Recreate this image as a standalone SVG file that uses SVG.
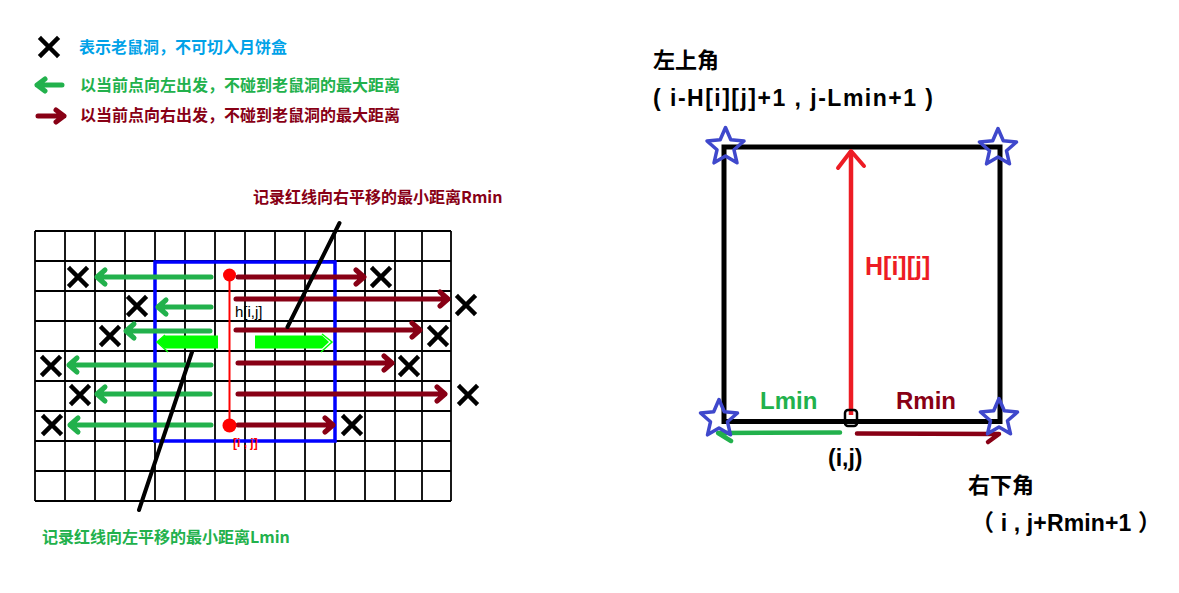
<svg xmlns="http://www.w3.org/2000/svg" width="1179" height="593" viewBox="0 0 1179 593">
<style>
.t{font-family:"Liberation Sans","Noto Sans CJK SC",sans-serif;font-weight:bold}
.cj{font-family:"Noto Sans CJK SC","Liberation Sans",sans-serif;font-weight:bold;font-size:16px}
.grid line{stroke:#000;stroke-width:1.8}
.xm{stroke:#000;stroke-width:4.5;fill:none;stroke-linecap:square}
.ga{stroke:#22b14c;stroke-width:5;fill:none;stroke-linecap:round;stroke-linejoin:round}
.ra{stroke:#880015;stroke-width:5;fill:none;stroke-linecap:round;stroke-linejoin:round}
.star{fill:none;stroke:#3f48cc;stroke-width:3.5;stroke-linejoin:round}
</style>
<defs>
<path id="x" class="xm" d="M-8,-8 L8,8 M8,-8 L-8,8"/>
<polygon id="st" class="star" points="0,-19.5 5.3,-7.2 18.5,-6 8.5,2.8 11.5,15.8 0,9 -11.5,15.8 -8.5,2.8 -18.5,-6 -5.3,-7.2"/>
</defs>
<rect width="1179" height="593" fill="#fff"/>

<g id="legend">
<use href="#x" x="49" y="47"/>
<text class="cj" x="79" y="53" fill="#00a2e8">表示老鼠洞，不可切入月饼盒</text>
<path class="ga" d="M62,85 L37,85 M45,79 L37,85 L45,91" stroke-width="4.5"/>
<text class="cj" x="80" y="91" fill="#22b14c">以当前点向左出发，不碰到老鼠洞的最大距离</text>
<path class="ra" d="M38,116 L64,116 M56,110 L64,116 L56,122" stroke-width="4.5"/>
<text class="cj" x="80" y="121" fill="#880015">以当前点向右出发，不碰到老鼠洞的最大距离</text>
</g>

<g id="grid" class="grid">
<line x1="35" y1="231" x2="35" y2="501"/><line x1="65" y1="231" x2="65" y2="501"/><line x1="95" y1="231" x2="95" y2="501"/><line x1="125" y1="231" x2="125" y2="501"/><line x1="155" y1="231" x2="155" y2="501"/><line x1="185" y1="231" x2="185" y2="501"/><line x1="215" y1="231" x2="215" y2="501"/><line x1="245" y1="231" x2="245" y2="501"/><line x1="275" y1="231" x2="275" y2="501"/><line x1="305" y1="231" x2="305" y2="501"/><line x1="335" y1="231" x2="335" y2="501"/><line x1="365" y1="231" x2="365" y2="501"/><line x1="395" y1="231" x2="395" y2="501"/><line x1="422" y1="231" x2="422" y2="501"/><line x1="451" y1="231" x2="451" y2="501"/>
<line x1="35" y1="231" x2="451" y2="231"/><line x1="35" y1="261" x2="451" y2="261"/><line x1="35" y1="291" x2="451" y2="291"/><line x1="35" y1="321" x2="451" y2="321"/><line x1="35" y1="351" x2="451" y2="351"/><line x1="35" y1="381" x2="451" y2="381"/><line x1="35" y1="411" x2="451" y2="411"/><line x1="35" y1="441" x2="451" y2="441"/><line x1="35" y1="471" x2="451" y2="471"/><line x1="35" y1="501" x2="451" y2="501"/>
</g>

<g id="holes">
<use href="#x" x="78" y="277"/><use href="#x" x="381" y="277"/>
<use href="#x" x="137" y="306"/><use href="#x" x="466" y="305"/>
<use href="#x" x="110" y="336"/><use href="#x" x="438" y="336"/>
<use href="#x" x="51" y="366"/><use href="#x" x="409" y="366"/>
<use href="#x" x="80" y="395"/><use href="#x" x="468" y="395"/>
<use href="#x" x="52" y="425"/><use href="#x" x="352" y="425"/>
</g>

<g id="box">
<rect x="155" y="262" width="180" height="179" fill="none" stroke="#0000ff" stroke-width="3.5"/>
</g>

<g id="connectors">
<path class="ga" d="M211,277 L97,277 M105,270 L97,277 L105,284"/>
<path class="ga" d="M211,307 L158,307 M166,300 L158,307 L166,314"/>
<path class="ga" d="M210,331 L126,331 M134,324 L126,331 L134,338"/>
<path class="ga" d="M211,365 L69,365 M77,358 L69,365 L77,372"/>
<path class="ga" d="M210,394 L97,394 M105,387 L97,394 L105,401"/>
<path class="ga" d="M211,425 L70,425 M78,418 L70,425 L78,432"/>
<path class="ra" d="M238,277 L364,277 M356,270 L364,277 L356,284"/>
<path class="ra" d="M236,299 L448,299 M440,292 L448,299 L440,306"/>
<path class="ra" d="M236,330 L420,330 M412,323 L420,330 L412,337"/>
<path class="ra" d="M238,363 L392,363 M384,356 L392,363 L384,370"/>
<path class="ra" d="M238,394 L445,394 M437,387 L445,394 L437,401"/>
<path class="ra" d="M238,425 L333,425 M325,418 L333,425 L325,432"/>
<polygon points="157,342 165,335.5 218,335.5 218,348.5 165,348.5" fill="#00ff00"/>
<path d="M165,335 L157,342 L168,352" fill="none" stroke="#00ff00" stroke-width="1.5"/>
<polygon points="255,335.5 322,335.5 329,342 322,348.5 255,348.5" fill="#00ff00"/>
<path d="M322,334 L332,342 L321,352" fill="none" stroke="#00ff00" stroke-width="1.5"/>
<line x1="229.5" y1="276" x2="229.5" y2="426" stroke="#ff0000" stroke-width="2"/>
<line x1="339.5" y1="223" x2="287.5" y2="327" stroke="#000" stroke-width="4" stroke-linecap="round"/>
<line x1="192" y1="352" x2="139" y2="510" stroke="#000" stroke-width="4" stroke-linecap="round"/>
</g>

<g id="points">
<circle cx="229.5" cy="275" r="6.5" fill="#ff0000"/>
<circle cx="229.5" cy="425.5" r="7" fill="#ff0000"/>
<text x="235" y="317" font-family="Liberation Sans,sans-serif" font-size="15" fill="#000">h[i,j]</text>
<text x="233" y="447" class="t" font-size="12" fill="#ff0000">[i , j]</text>
</g>

<g id="labels">
<text class="cj" x="253" y="203" fill="#880015">记录红线向右平移的最小距离Rmin</text>
<text class="cj" x="42" y="543" fill="#22b14c">记录红线向左平移的最小距离Lmin</text>
</g>

<g id="rect-panel">
<rect x="724" y="147" width="276" height="274.5" fill="none" stroke="#000" stroke-width="5"/>
<line x1="851" y1="415" x2="851" y2="151" stroke="#ed1c24" stroke-width="4.5"/>
<path d="M838,168 L851,151 L864,166" fill="none" stroke="#ed1c24" stroke-width="4" stroke-linecap="round" stroke-linejoin="round"/>
<rect x="845" y="410" width="12" height="16" rx="3" fill="none" stroke="#000" stroke-width="2.5"/>
<path d="M840,432.5 L718,433 L731,441" fill="none" stroke="#22b14c" stroke-width="4.5" stroke-linecap="round" stroke-linejoin="round"/>
<path d="M857,433.5 L999,434 L988,442" fill="none" stroke="#880015" stroke-width="4.5" stroke-linecap="round" stroke-linejoin="round"/>
<use href="#st" x="725.5" y="147"/>
<use href="#st" x="998" y="148"/>
<use href="#st" x="719" y="419"/>
<use href="#st" x="999" y="418"/>
<text class="t" x="865" y="275" font-size="25" fill="#ed1c24">H[i][j]</text>
<text class="t" x="760" y="409" font-size="24" fill="#22b14c">Lmin</text>
<text class="t" x="896" y="409" font-size="24" fill="#880015">Rmin</text>
<text class="t" x="828" y="466" font-size="23" fill="#000">(i,j)</text>
</g>

<g id="corner-labels">
<text class="t" x="653" y="68" font-size="22" fill="#000">左上角</text>
<text class="t" x="653" y="106" font-size="23" fill="#000" textLength="280" lengthAdjust="spacing">( i-H[i][j]+1 , j-Lmin+1 )</text>
<text class="t" x="968" y="493" font-size="22" fill="#000">右下角</text>
<text class="t" x="971" y="531" font-size="23" fill="#000" textLength="190" lengthAdjust="spacing">（ i , j+Rmin+1 ）</text>
</g>
</svg>
